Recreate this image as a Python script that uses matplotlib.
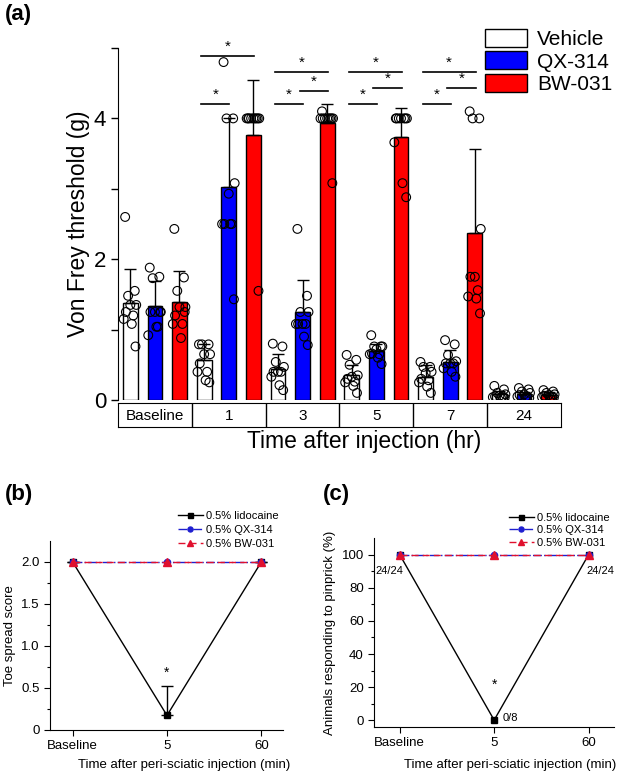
import numpy as np
import matplotlib.pyplot as plt
from matplotlib.patches import Patch

plt.rcParams['font.family'] = ['Liberation Sans', 'DejaVu Sans']

# ---------------- panel (a) data ----------------
groups = ["Baseline", "1", "3", "5", "7", "24"]
treatments = ["Vehicle", "QX-314", "BW-031"]
bar_colors = ["white", "#0000FF", "#FF0000"]

mean_vehicle = [1.38, 0.57, 0.44, 0.35, 0.33, 0.08]
mean_qx = [1.33, 3.02, 1.25, 0.70, 0.54, 0.08]
mean_bw = [1.39, 3.76, 3.93, 3.73, 2.37, 0.07]

sd_vehicle = [0.48, 0.22, 0.22, 0.14, 0.16, 0.05]
sd_qx = [0.36, 0.98, 0.45, 0.10, 0.17, 0.04]
sd_bw = [0.44, 0.78, 0.28, 0.42, 1.19, 0.04]

pts_vehicle = [
    [2.6, 1.55, 1.48, 1.35, 1.35, 1.25, 1.2, 1.15, 1.08, 0.76],
    [0.79, 0.79, 0.79, 0.65, 0.65, 0.52, 0.4, 0.4, 0.28, 0.25],
    [0.8, 0.76, 0.54, 0.47, 0.4, 0.4, 0.4, 0.33, 0.21, 0.14],
    [0.64, 0.57, 0.5, 0.35, 0.33, 0.3, 0.26, 0.25, 0.2, 0.1],
    [0.54, 0.47, 0.47, 0.4, 0.38, 0.3, 0.28, 0.25, 0.19, 0.1],
    [0.2, 0.15, 0.1, 0.08, 0.06, 0.05, 0.05, 0.04, 0.03, 0.03],
]
pts_qx = [
    [1.88, 1.75, 1.73, 1.25, 1.25, 1.25, 1.04, 0.92, 1.04, 1.25],
    [4.8, 4.0, 4.0, 3.08, 2.93, 2.5, 2.5, 2.5, 2.5, 1.43],
    [2.43, 1.48, 1.25, 1.25, 1.08, 1.08, 1.08, 1.08, 0.9, 0.78],
    [0.92, 0.76, 0.76, 0.76, 0.72, 0.66, 0.65, 0.65, 0.6, 0.51],
    [0.85, 0.79, 0.64, 0.55, 0.52, 0.52, 0.52, 0.45, 0.4, 0.33],
    [0.17, 0.15, 0.12, 0.1, 0.08, 0.07, 0.05, 0.05, 0.04, 0.03],
]
pts_bw = [
    [2.43, 1.74, 1.55, 1.32, 1.32, 1.2, 1.08, 1.08, 0.88, 1.25],
    [4.0, 4.0, 4.0, 4.0, 4.0, 4.0, 4.0, 4.0, 4.0, 1.55],
    [4.1, 4.0, 4.0, 4.0, 4.0, 4.0, 4.0, 4.0, 4.0, 3.08],
    [4.0, 4.0, 4.0, 4.0, 4.0, 4.0, 4.0, 3.66, 3.08, 2.88],
    [4.1, 4.0, 4.0, 2.43, 1.75, 1.75, 1.56, 1.47, 1.44, 1.23],
    [0.14, 0.12, 0.1, 0.08, 0.07, 0.06, 0.05, 0.04, 0.04, 0.03],
]

# significance brackets: (group index, from bar, to bar, height)
sig_lines = [
    (1, 0, 1, 4.21), (1, 0, 2, 4.89),
    (2, 0, 1, 4.21), (2, 1, 2, 4.39), (2, 0, 2, 4.66),
    (3, 0, 1, 4.21), (3, 1, 2, 4.43), (3, 0, 2, 4.66),
    (4, 0, 1, 4.21), (4, 1, 2, 4.43), (4, 0, 2, 4.66),
]

# ---------------- panels (b), (c) data ----------------
time_labels = ["Baseline", "5", "60"]
toe_lido = [2.0, 0.17, 2.0]
toe_lido_sd = [0, 0.35, 0]
toe_qx = [2.0, 2.0, 2.0]
toe_bw = [2.0, 2.0, 2.0]

pin_lido = [100, 0, 100]
pin_qx = [100, 100, 100]
pin_bw = [100, 100, 100]

fig = plt.figure(figsize=(6.19, 7.78), dpi=100)

# ---------------- panel (a) ----------------
ax = fig.add_axes([0.1906, 0.4859, 0.7157, 0.4524])
x = np.arange(len(groups))
offs = [-0.333, 0.0, 0.333]
width = 0.2
jit = np.array([-0.07, 0.06, -0.03, 0.08, 0.0, -0.06, 0.04, -0.09, 0.02, 0.07])

means = [mean_vehicle, mean_qx, mean_bw]
sds = [sd_vehicle, sd_qx, sd_bw]
pts = [pts_vehicle, pts_qx, pts_bw]
for k in range(3):
    xs = x + offs[k]
    ax.bar(xs, means[k], width=width, color=bar_colors[k], edgecolor="black",
           linewidth=1.0, zorder=2)
    ax.errorbar(xs, means[k], yerr=[np.zeros(len(groups)), sds[k]], fmt="none",
                ecolor="black", elinewidth=1.0, capsize=4, capthick=1.0, zorder=3)
    for g in range(len(groups)):
        vals = pts[k][g]
        ax.scatter(xs[g] + jit[:len(vals)], vals, s=40, facecolors="none",
                   edgecolors="black", linewidths=0.8, zorder=4)

for g, i, j, h in sig_lines:
    x0 = g + offs[i] - 0.04
    x1 = g + offs[j] + 0.01
    ax.plot([x0, x1], [h, h], color="black", lw=1.2, clip_on=False)
    ax.text((x0 + x1) / 2, h + 0.03, "*", ha="center", va="bottom", fontsize=11)

ax.set_xlim(-0.5, 5.5)
ax.set_ylim(0, 5)
ax.set_yticks([0, 2, 4])
ax.set_yticks([1, 3, 5], minor=True)
ax.tick_params(axis="y", labelsize=16, length=5, width=1)
ax.tick_params(axis="y", which="minor", length=5, width=1)
ax.set_xticks([])
for s in ["top", "right", "bottom"]:
    ax.spines[s].set_visible(False)
ax.set_ylabel("Von Frey threshold (g)", fontsize=16.5, labelpad=3)

# category table under the axis
axt = fig.add_axes([0.1906, 0.4512, 0.7157, 0.0308])
axt.set_xlim(-0.5, 5.5)
axt.set_ylim(0, 1)
axt.set_xticks([])
axt.set_yticks([])
for b in np.arange(0.5, 5.5, 1.0):
    axt.axvline(b, color="black", lw=1.0)
for g, lab in enumerate(groups):
    axt.text(g, 0.45, lab, ha="center", va="center", fontsize=11)
fig.text(0.588, 0.432, "Time after injection (hr)", ha="center", va="center", fontsize=16.5)

handles = [Patch(facecolor=c, edgecolor="black", linewidth=1.0) for c in bar_colors]
fig.legend(handles, treatments, loc="upper left", bbox_to_anchor=(0.784, 0.963),
           frameon=False, fontsize=15, handlelength=2.0, handleheight=0.95,
           labelspacing=0.12, handletextpad=0.5, borderaxespad=0, borderpad=0)

fig.text(0.008, 0.982, "(a)", fontsize=16, fontweight="bold", va="center")


# ---------------- panels (b) and (c) ----------------
def line_panel(axp, lido, qx, bw, lido_sd=None, leg_y=1.16, leg_sp=0.25):
    xt = np.arange(3)
    if lido_sd is not None:
        axp.errorbar(xt, lido, yerr=[np.zeros(3), lido_sd], fmt="none", ecolor="black",
                     elinewidth=1.0, capsize=4, capthick=1.0, zorder=2)
    axp.plot(xt, lido, color="black", lw=1.0, marker="s", ms=4.5, label="0.5% lidocaine", zorder=3)
    axp.plot(xt, qx, color="#1f1fd0", lw=1.0, ls="-.", marker="o", ms=4.5, label="0.5% QX-314", zorder=4)
    axp.plot(xt, bw, color="#e0102e", lw=1.0, ls=(0, (5, 3)), marker="^", ms=6,
             label="0.5% BW-031", zorder=5)
    axp.set_xticks(xt)
    axp.set_xticklabels(time_labels)
    axp.tick_params(axis="both", labelsize=9.5, length=4, width=0.8)
    axp.tick_params(axis="y", which="minor", length=2.5, width=0.8)
    axp.tick_params(axis="x", which="minor", bottom=False)
    for s in ["top", "right"]:
        axp.spines[s].set_visible(False)
    for s in ["left", "bottom"]:
        axp.spines[s].set_linewidth(0.8)
    axp.legend(loc="upper right", bbox_to_anchor=(1.0, leg_y), frameon=False, fontsize=8,
               handlelength=2.2, labelspacing=leg_sp, handletextpad=0.3, borderaxespad=0,
               markerscale=0.8)


axb = fig.add_axes([0.0808, 0.0621, 0.3764, 0.2425])
line_panel(axb, toe_lido, toe_qx, toe_bw, toe_lido_sd, leg_y=1.185, leg_sp=0.38)
axb.set_xlim(-0.24, 2.23)
axb.set_ylim(0, 2.25)
axb.set_yticks([0, 0.5, 1.0, 1.5, 2.0])
axb.set_yticklabels(["0", "0.5", "1.0", "1.5", "2.0"])
axb.set_yticks(np.arange(0.25, 2.25, 0.5), minor=True)
axb.set_ylabel("Toe spread score", fontsize=9.5, labelpad=4)
axb.text(1, 0.6, "*", ha="center", va="bottom", fontsize=10)
fig.text(0.297, 0.017, "Time after peri-sciatic injection (min)", ha="center", va="center",
         fontsize=9.5)
fig.text(0.008, 0.365, "(b)", fontsize=16, fontweight="bold", va="center")

axc = fig.add_axes([0.6047, 0.0659, 0.3872, 0.2422])
line_panel(axc, pin_lido, pin_qx, pin_bw, leg_y=1.16, leg_sp=0.25)
axc.set_xlim(-0.27, 2.27)
axc.set_ylim(-4, 110)
axc.set_yticks(np.arange(0, 101, 20))
axc.set_yticks(np.arange(10, 110, 20), minor=True)
axc.set_ylabel("Animals responding to pinprick (%)", fontsize=9.5, labelpad=4)
axc.text(-0.11, 90.5, "24/24", ha="center", va="center", fontsize=8)
axc.text(2.13, 90.5, "24/24", ha="center", va="center", fontsize=8)
axc.text(1.17, 1, "0/8", ha="center", va="center", fontsize=8)
axc.text(1, 17, "*", ha="center", va="bottom", fontsize=10)
fig.text(0.824, 0.017, "Time after peri-sciatic injection (min)", ha="center", va="center",
         fontsize=9.5)
fig.text(0.522, 0.365, "(c)", fontsize=16, fontweight="bold", va="center")

fig.savefig("out.png", dpi=100)
